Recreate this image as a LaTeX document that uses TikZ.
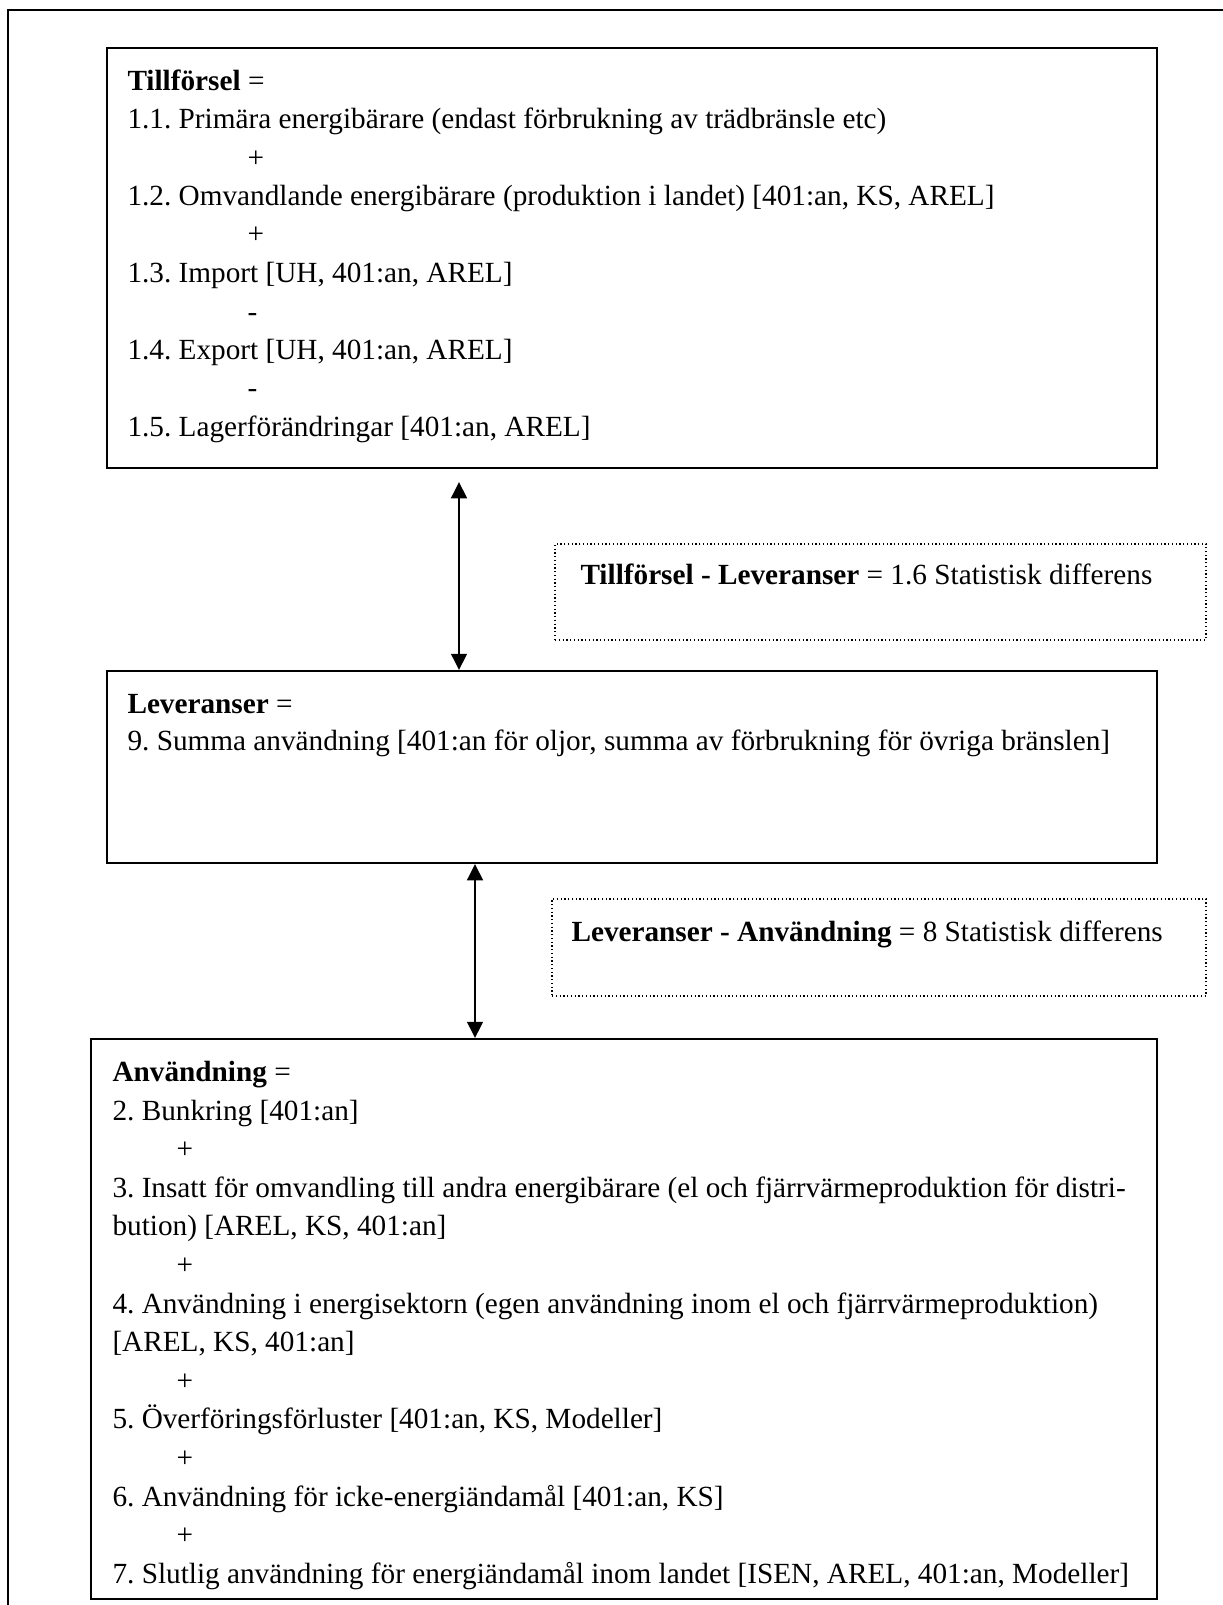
\documentclass[tikz,border=0pt]{standalone}
\usepackage{fontspec}
\setmainfont{Liberation Serif}
\usetikzlibrary{fit,arrows.meta}
\frenchspacing

\begin{document}
\begin{tikzpicture}[x=0.4pt,y=-0.4pt,
  box/.style={draw,line width=0.8pt,inner sep=0pt},
  diffbox/.style={draw,densely dotted,line width=0.5pt,inner sep=0pt},
  txt/.style={anchor=base west,inner sep=0pt,font=\fontsize{11.7}{14}\selectfont},
  dbl/.style={{Triangle[length=6.5pt,width=6.3pt]}-{Triangle[length=6.5pt,width=6.3pt]},line width=0.8pt}]
\useasboundingbox (0,0) rectangle (1223,1605);
\draw[line width=0.8pt] (1223,10) -- (8,10) -- (8,1605);
% Tillforsel
\node[box,fit={(107,48) (1157,468)}] (tillf) {};
\node[txt] (t0) at (127,91) {\textbf{Tillförsel} =};
\node[txt] (t1) at (127,129) {1.1. Primära energibärare (endast förbrukning av trädbränsle etc)};
\node[txt] (t2) at (247,168) {+};
\node[txt] (t3) at (127,206) {1.2. Omvandlande energibärare (produktion i landet) [401:an, KS, AREL]};
\node[txt] (t4) at (247,244) {+};
\node[txt] (t5) at (127,283) {1.3. Import [UH, 401:an, AREL]};
\node[txt] (t6) at (247,321) {-};
\node[txt] (t7) at (127,359) {1.4. Export [UH, 401:an, AREL]};
\node[txt] (t8) at (247,397) {-};
\node[txt] (t9) at (127,436) {1.5. Lagerförändringar [401:an, AREL]};
% Leveranser
\node[box,fit={(107,671) (1157,863)}] (lev) {};
\node[txt] (l0) at (127,713) {\textbf{Leveranser} =};
\node[txt] (l1) at (127,750) {9. Summa användning [401:an för oljor, summa av förbrukning för övriga bränslen]};
% differenser
\node[diffbox,fit={(555,544) (1206,640)}] (diff1) {};
\node[txt] (d1) at (580,584) {\textbf{Tillförsel - Leveranser} = 1.6 Statistisk differens};
\node[diffbox,fit={(552,899) (1206,996)}] (diff2) {};
\node[txt] (d2) at (571,941) {\textbf{Leveranser - Användning} = 8 Statistisk differens};
% Anvandning
\node[box,fit={(91,1039) (1157,1599)}] (anv) {};
\node[txt] (a0) at (112,1081) {\textbf{Användning} =};
\node[txt] (a1) at (112,1120) {2. Bunkring [401:an]};
\node[txt] (a2) at (176,1158) {+};
\node[txt] (a3) at (112,1197) {3. Insatt för omvandling till andra energibärare (el och fjärrvärmeproduktion för distri-};
\node[txt] (a4) at (112,1235) {bution) [AREL, KS, 401:an]};
\node[txt] (a5) at (176,1274) {+};
\node[txt] (a6) at (112,1313) {4. Användning i energisektorn (egen användning inom el och fjärrvärmeproduktion)};
\node[txt] (a7) at (112,1351) {[AREL, KS, 401:an]};
\node[txt] (a8) at (176,1390) {+};
\node[txt] (a9) at (112,1428) {5. Överföringsförluster [401:an, KS, Modeller]};
\node[txt] (a10) at (176,1467) {+};
\node[txt] (a11) at (112,1506) {6. Användning för icke-energiändamål [401:an, KS]};
\node[txt] (a12) at (176,1544) {+};
\node[txt] (a13) at (112,1583) {7. Slutlig användning för energiändamål inom landet [ISEN, AREL, 401:an, Modeller]};
% pilar
\coordinate (p1) at (459,482);
\draw[dbl] (p1) -- (p1 |- lev.north);
\coordinate (p2) at (475,0);
\draw[dbl] (p2 |- lev.south) -- (p2 |- anv.north);
\end{tikzpicture}
\end{document}
